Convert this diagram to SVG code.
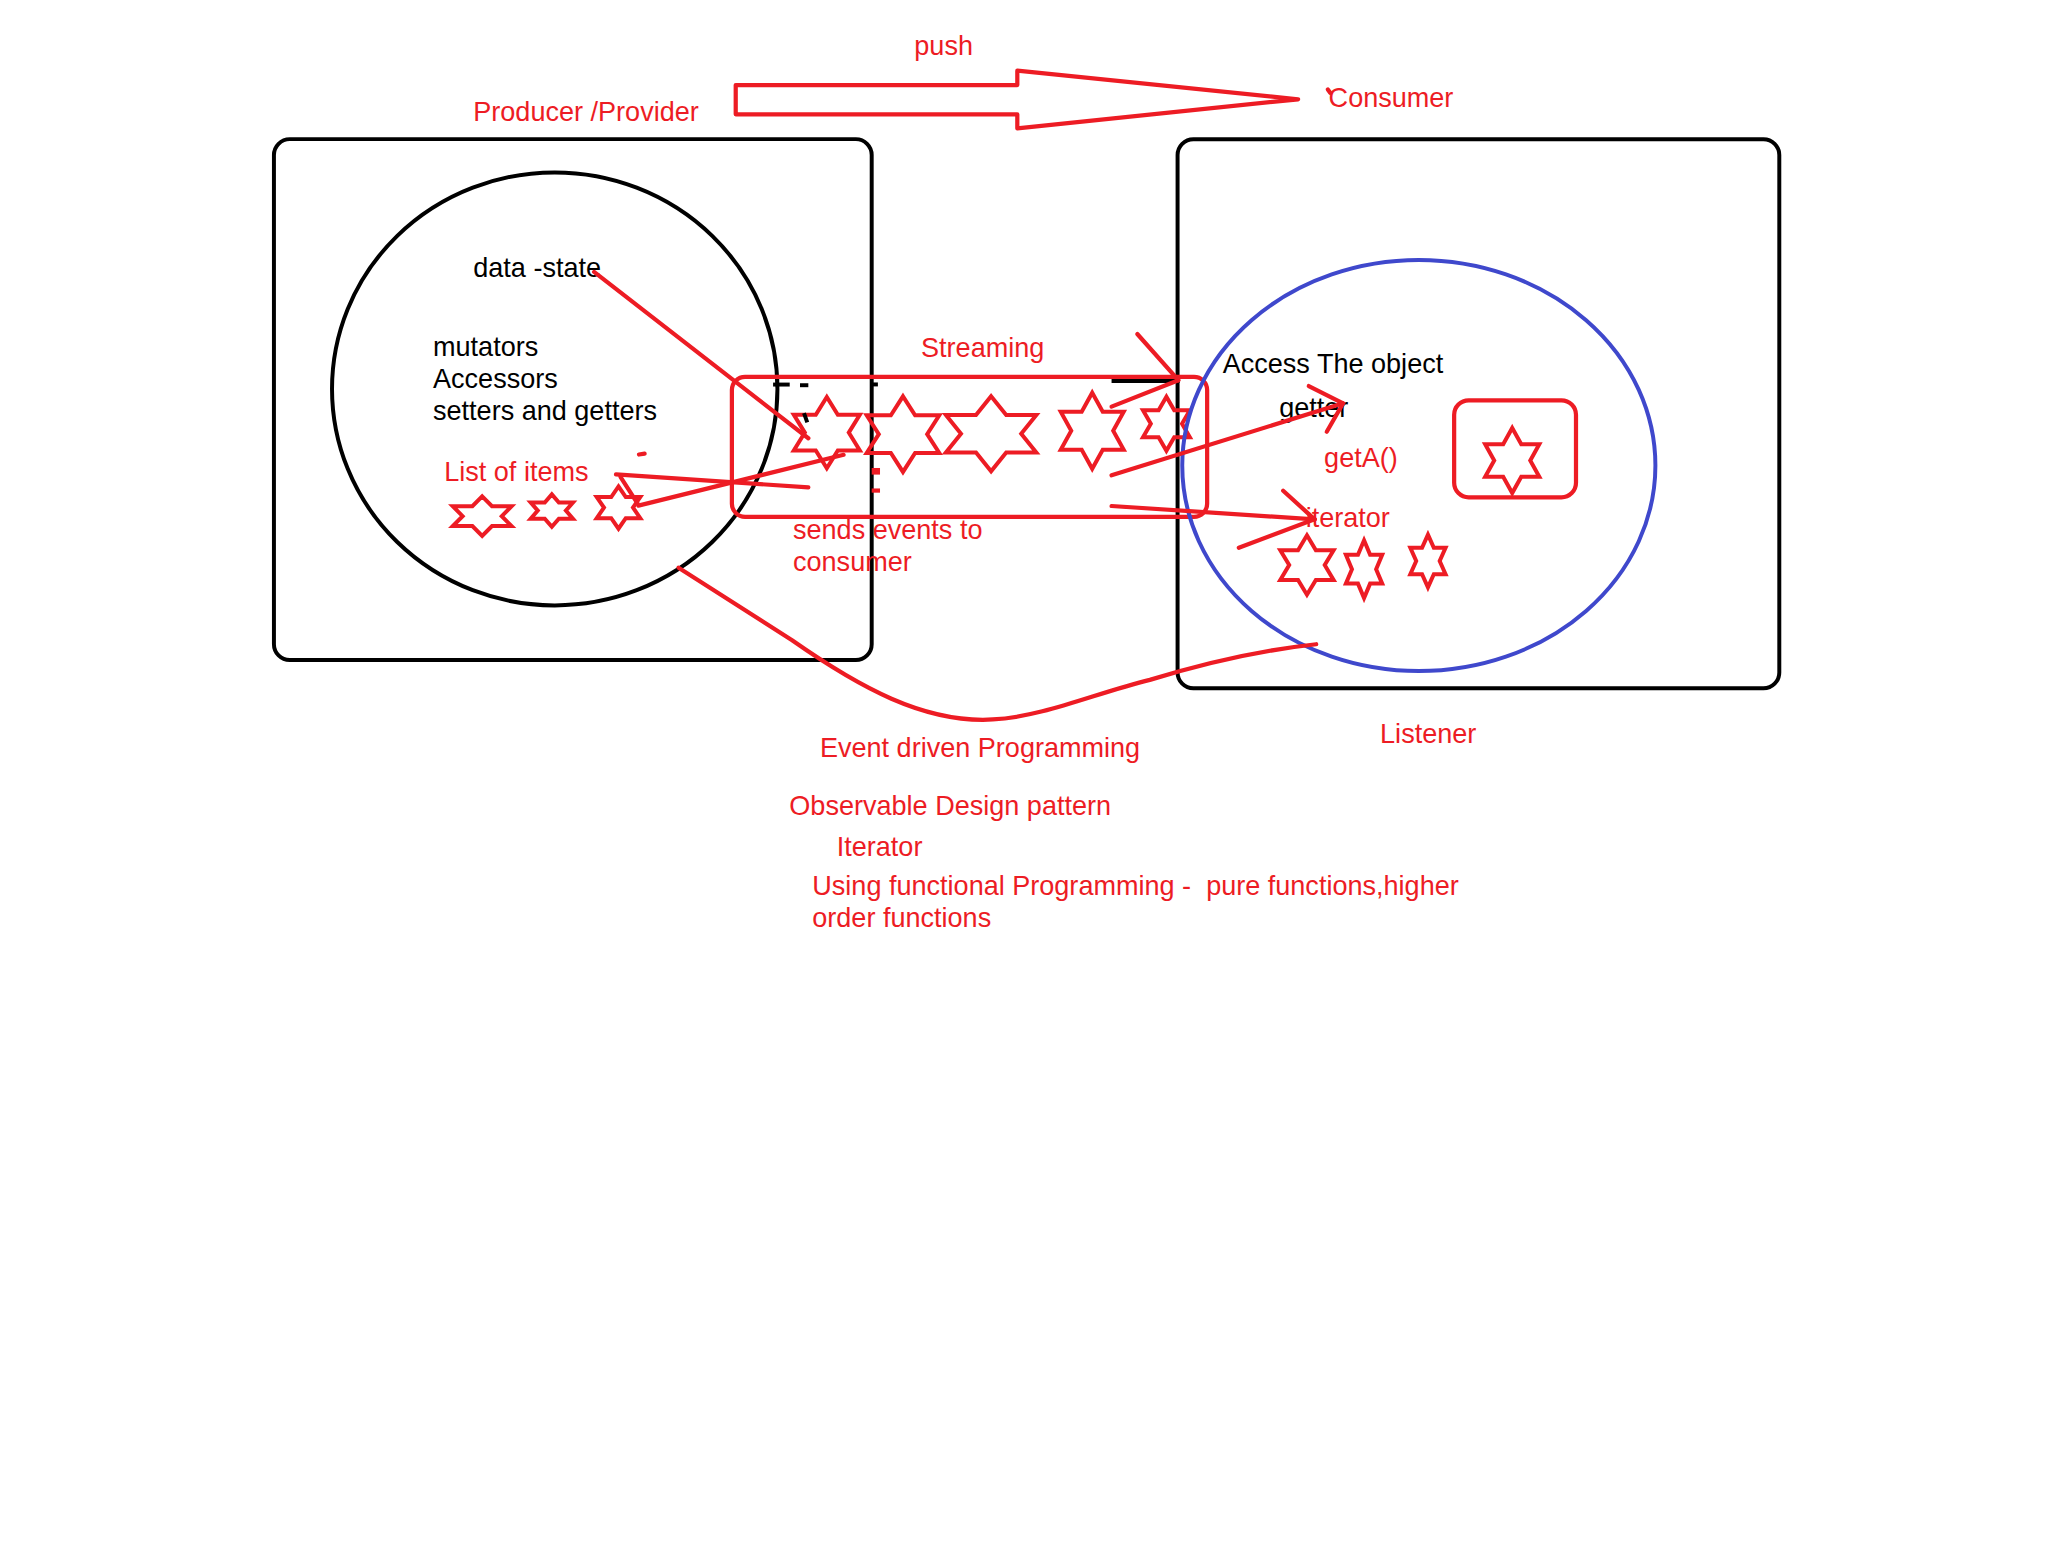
<svg xmlns="http://www.w3.org/2000/svg" xmlns:xlink="http://www.w3.org/1999/xlink" width="2070" height="1550" viewBox="0 0 2070 1550">
<style>
.r{stroke:#ed1c24;stroke-width:3.2;fill:none;stroke-linecap:round;stroke-linejoin:round}
.k{stroke:#000;stroke-width:3;fill:none}
.b{stroke:#3f48cc;stroke-width:3;fill:none}
.tr{fill:#ed1c24;font-family:"Liberation Sans",Arial,sans-serif;font-size:20.5px}
.tk{fill:#000;font-family:"Liberation Sans",Arial,sans-serif;font-size:20.5px}
</style>
<defs>
<symbol id="star" viewBox="0 0 100 100" preserveAspectRatio="none" overflow="visible">
<path d="M50,0 L66.7,25 L100,25 L83.3,50 L100,75 L66.7,75 L50,100 L33.3,75 L0,75 L16.7,50 L0,25 L33.3,25 Z" fill="none" stroke="#ed1c24" stroke-width="4" stroke-linejoin="miter" vector-effect="non-scaling-stroke"/>
</symbol>
</defs>
<rect width="2070" height="1550" fill="#fff"/>
<g transform="scale(1.32015)">
<g id="producer">
<rect class="k" x="207.5" y="105.4" width="452.8" height="394.6" rx="12"/>
<ellipse class="k" cx="420.2" cy="294.6" rx="168.7" ry="164" stroke-width="2.6"/>
<text class="tr" x="358.5" y="91.7">Producer /Provider</text>
<text class="tk" x="358.5" y="209.7">data -state</text>
<text class="tk" x="328" y="269.4">mutators</text>
<text class="tk" x="328" y="293.8">Accessors</text>
<text class="tk" x="328" y="317.9">setters and getters</text>
<text class="tr" x="336.5" y="364.2">List of items</text>
<use href="#star" x="343" y="376" width="44.5" height="30"/>
<use href="#star" x="402" y="374.5" width="32" height="24.5"/>
<use href="#star" x="452" y="368.5" width="33" height="32"/>
</g>
<g id="consumer">
<rect class="k" x="892" y="105.5" width="455.8" height="415.9" rx="12"/>
<text class="tr" x="1006.4" y="81.3">Consumer</text>
<line class="r" x1="1005.8" y1="67.8" x2="1007.6" y2="70.3"/>
<text class="tr" x="1045.4" y="562.6">Listener</text>
</g>
<g id="stream">
<rect class="r" x="554.4" y="285.5" width="360" height="106" rx="10"/>
<text class="tr" x="697.7" y="270.5">Streaming</text>
<text class="tr" x="600.7" y="408.5">sends events to</text>
<text class="tr" x="600.7" y="432.3">consumer</text>
<use href="#star" x="601.3" y="300.7" width="50" height="54"/>
<use href="#star" x="656.5" y="300.2" width="55" height="57.3"/>
<use href="#star" x="716.5" y="300.2" width="68.5" height="56.8"/>
<use href="#star" x="803.5" y="297.5" width="47.7" height="57.6"/>
<use href="#star" x="865.8" y="300.5" width="35.5" height="41"/>
</g>
<g id="marks">
<line class="k" x1="842" y1="288.6" x2="893.5" y2="288.6"/>
<line class="k" x1="585.6" y1="291.3" x2="598.2" y2="291.3"/>
<line class="k" x1="606" y1="291.8" x2="612.3" y2="291.8"/>
<line class="k" x1="661" y1="291.2" x2="665" y2="291.2"/>
<line class="k" x1="609" y1="313" x2="611.5" y2="320" stroke-width="2.5"/>
<rect x="660.3" y="354.5" width="6.3" height="5" fill="#ed1c24"/>
<rect x="660.3" y="370" width="6.3" height="3.2" fill="#ed1c24"/>
<line class="r" x1="484" y1="344.3" x2="488.3" y2="343.6"/>
</g>
<g id="object">
<ellipse class="b" cx="1074.75" cy="352.65" rx="179.2" ry="155.7"/>
<text class="tk" x="926.2" y="282.8">Access The object</text>
<text class="tk" x="969" y="315.6">getter</text>
<text class="tr" x="1003" y="353.5">getA()</text>
<text class="tr" x="989" y="399.5">iterator</text>
<rect class="r" x="1101.5" y="303.2" width="92.3" height="73.5" rx="11"/>
<use href="#star" x="1125" y="324.2" width="41" height="49.3"/>
<use href="#star" x="969.8" y="405.5" width="40.4" height="45"/>
<use href="#star" x="1019.5" y="409.3" width="27.5" height="43.7"/>
<use href="#star" x="1068.3" y="405" width="26.7" height="39.9"/>
</g>
<g id="connectors">
<polygon class="r" points="557.3,64.4 770.6,64.4 770.6,53.5 983.3,75.2 770.6,97.2 770.6,86.6 557.3,86.6"/>
<line class="r" x1="450" y1="206" x2="612.3" y2="332"/>
<line class="r" x1="466.6" y1="359.3" x2="612.3" y2="369.2"/>
<line class="r" x1="483.6" y1="383" x2="639" y2="344.5"/>
<line class="r" x1="470" y1="361.3" x2="483" y2="381.5"/>
<line class="r" x1="842" y1="308" x2="892.6" y2="288"/>
<line class="r" x1="861.5" y1="253" x2="892.6" y2="288"/>
<line class="r" x1="842" y1="360" x2="1017.4" y2="305.5"/>
<polyline class="r" points="991.4,292.4 1017.4,305.5 1005,327"/>
<line class="r" x1="842" y1="383.3" x2="995.8" y2="393.4"/>
<line class="r" x1="972" y1="371.7" x2="995.8" y2="393.4"/>
<line class="r" x1="938.4" y1="414.9" x2="995.8" y2="393.4"/>
<path class="r" d="M514,430 L600,485 C650,520 700,548 752,545 C790,543 830,525 871,515 C920,500 960,492 997,488"/>
</g>
<g id="labels">
<text class="tr" x="692.6" y="41.7">push</text>
<text class="tr" x="621.1" y="573.7">Event driven Programming</text>
<text class="tr" x="597.9" y="617.4">Observable Design pattern</text>
<text class="tr" x="633.8" y="648.4">Iterator</text>
<text class="tr" x="615.3" y="678" xml:space="preserve">Using functional Programming -  pure functions,higher</text>
<text class="tr" x="615.3" y="702">order functions</text>
</g>
</g>
</svg>
